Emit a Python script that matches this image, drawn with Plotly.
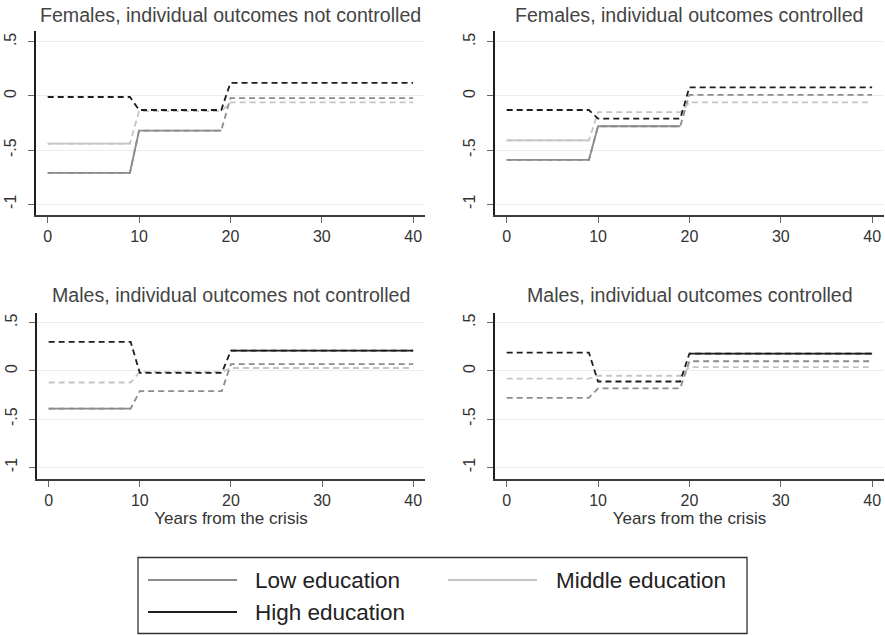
import plotly.graph_objects as go

# ---------------- data ----------------
YEARS = [0, 9, 10, 19, 20, 40]          # step breakpoints (years from the crisis)
SERIES = ["Low education", "Middle education", "High education"]

PANEL_TITLES = [
    "Females, individual outcomes not controlled",
    "Females, individual outcomes controlled",
    "Males, individual outcomes not controlled",
    "Males, individual outcomes controlled",
]

# period values: years 0-9, 10-19, 20-40
F_NC_LOW = [-0.71, -0.32, -0.02]
F_NC_MID = [-0.44, -0.14, -0.06]
F_NC_HIGH = [-0.01, -0.13, 0.12]
F_C_LOW = [-0.59, -0.28, 0.01]
F_C_MID = [-0.41, -0.15, -0.06]
F_C_HIGH = [-0.13, -0.21, 0.08]
M_NC_LOW = [-0.39, -0.21, 0.07]
M_NC_MID = [-0.12, -0.01, 0.03]
M_NC_HIGH = [0.30, -0.02, 0.21]
M_C_LOW = [-0.28, -0.18, 0.10]
M_C_MID = [-0.08, -0.05, 0.04]
M_C_HIGH = [0.19, -0.11, 0.18]

# significance per period (solid if significant, dashed otherwise)
F_NC_LOW_SIG = [True, True, False]
F_NC_MID_SIG = [True, False, False]
F_NC_HIGH_SIG = [False, False, False]
F_C_LOW_SIG = [True, True, False]
F_C_MID_SIG = [True, False, False]
F_C_HIGH_SIG = [False, False, False]
M_NC_LOW_SIG = [True, False, False]
M_NC_MID_SIG = [False, False, False]
M_NC_HIGH_SIG = [False, False, True]
M_C_LOW_SIG = [False, False, False]
M_C_MID_SIG = [False, False, False]
M_C_HIGH_SIG = [False, False, True]

Y_TICKS = [-1, -0.5, 0, 0.5]
Y_TICK_LABELS = ["-1", "-.5", "0", ".5"]
X_TICKS = [0, 10, 20, 30, 40]
X_TITLE = "Years from the crisis"

PANELS = [
    [(F_NC_LOW, F_NC_LOW_SIG), (F_NC_MID, F_NC_MID_SIG), (F_NC_HIGH, F_NC_HIGH_SIG)],
    [(F_C_LOW, F_C_LOW_SIG), (F_C_MID, F_C_MID_SIG), (F_C_HIGH, F_C_HIGH_SIG)],
    [(M_NC_LOW, M_NC_LOW_SIG), (M_NC_MID, M_NC_MID_SIG), (M_NC_HIGH, M_NC_HIGH_SIG)],
    [(M_C_LOW, M_C_LOW_SIG), (M_C_MID, M_C_MID_SIG), (M_C_HIGH, M_C_HIGH_SIG)],
]

# ---------------- style ----------------
W, H = 885, 635
COLORS = ["#8c8c8c", "#c4c4c4", "#1e1e1e"]
FONT = "Liberation Sans, Arial, sans-serif"


def px_x(a, b):
    return [a / W, b / W]


def px_y(top, bottom):
    return [1 - bottom / H, 1 - top / H]


X_DOMAINS = [px_x(36, 425), px_x(495, 884), px_x(37, 425), px_x(495, 884)]
Y_DOMAINS = [px_y(31, 215), px_y(31, 215), px_y(313, 479), px_y(313, 479)]
Y_RANGES = [[-1.10, 0.60], [-1.10, 0.60], [-1.12, 0.60], [-1.12, 0.60]]
X_RANGE = [-1.28, 41.3]


def expand(vals):
    out = []
    for v in vals:
        out += [v, v]
    return out


def expand_sig(vals, sig):
    out = []
    for v, s in zip(vals, sig):
        out += [v if s else None, v if s else None]
    return out


fig = go.Figure()
layout = {}
for i, panel in enumerate(PANELS):
    xa = "x" if i == 0 else f"x{i+1}"
    ya = "y" if i == 0 else f"y{i+1}"
    for j, (vals, sig) in enumerate(panel):
        fig.add_trace(go.Scatter(
            x=YEARS, y=expand(vals), mode="lines", xaxis=xa, yaxis=ya,
            line=dict(color=COLORS[j], width=1.8, dash="6px,4px"),
            name=SERIES[j], showlegend=False, hoverinfo="skip"))
        fig.add_trace(go.Scatter(
            x=YEARS, y=expand_sig(vals, sig), mode="lines", xaxis=xa, yaxis=ya,
            line=dict(color=COLORS[j], width=1.8), connectgaps=False,
            name=SERIES[j], showlegend=False, hoverinfo="skip"))
    kx = "xaxis" if i == 0 else f"xaxis{i+1}"
    ky = "yaxis" if i == 0 else f"yaxis{i+1}"
    layout[kx] = dict(
        domain=X_DOMAINS[i], range=X_RANGE, anchor=ya, tickvals=X_TICKS,
        showgrid=False, zeroline=False, showline=True, linecolor="#3a3a3a",
        linewidth=1.5, ticks="outside", ticklen=6, tickwidth=1.3,
        tickcolor="#666666", tickfont=dict(size=16, color="#333333", family=FONT),
        title=dict(text=X_TITLE if i >= 2 else "", font=dict(size=17, color="#333333", family=FONT),
                   standoff=2),
    )
    layout[ky] = dict(
        domain=Y_DOMAINS[i], range=Y_RANGES[i], anchor=xa, tickvals=Y_TICKS,
        ticktext=Y_TICK_LABELS, tickangle=-90, showgrid=True, gridcolor="#ececec",
        gridwidth=1.2, zeroline=False, showline=True, linecolor="#1e1e1e",
        linewidth=1.5, ticks="outside", ticklen=6, tickwidth=1.3,
        tickcolor="#666666", tickfont=dict(size=16, color="#333333", family=FONT),
        ticklabelstandoff=6,
    )

annotations = []
TITLE_Y = [15, 15, 295, 295]
for i, t in enumerate(PANEL_TITLES):
    annotations.append(dict(
        text=t, xref="paper", yref="paper", x=sum(X_DOMAINS[i]) / 2, y=1 - TITLE_Y[i] / H,
        xanchor="center", yanchor="middle", showarrow=False,
        font=dict(size=19.6, color="#444444", family=FONT)))

# legend (drawn manually to match the wide line samples)
shapes = [dict(type="rect", xref="paper", yref="paper",
               x0=138 / W, x1=747 / W, y0=1 - 633.5 / H, y1=1 - 557.5 / H,
               line=dict(color="#333333", width=1.3), fillcolor="white")]
LEG_ITEMS = [(0, 148, 237, 253, 580), (1, 448, 537, 554, 580), (2, 148, 237, 253, 612)]
for j, lx0, lx1, tx, ty in LEG_ITEMS:
    shapes.append(dict(type="line", xref="paper", yref="paper",
                       x0=lx0 / W, x1=lx1 / W, y0=1 - ty / H, y1=1 - ty / H,
                       line=dict(color=COLORS[j], width=2)))
    annotations.append(dict(
        text=SERIES[j], xref="paper", yref="paper", x=tx / W, y=1 - ty / H,
        xanchor="left", yanchor="middle", showarrow=False,
        font=dict(size=22.5, color="#222222", family=FONT)))

fig.update_layout(
    width=W, height=H, margin=dict(l=0, r=0, t=0, b=0),
    paper_bgcolor="white", plot_bgcolor="white", showlegend=False,
    annotations=annotations, shapes=shapes, **layout)

fig.write_html(
    "out.html",
    config={"displayModeBar": False},
    post_script="document.body.style.margin='0';document.body.style.padding='0';"
                "document.body.style.overflow='hidden';")
